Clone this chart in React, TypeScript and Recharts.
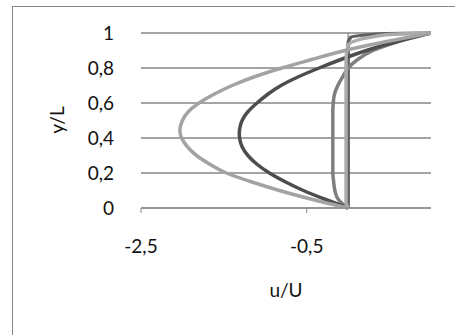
import { LineChart, Line, XAxis, YAxis, CartesianGrid, ReferenceLine, Label } from "recharts";

// y/L samples shared by the two parabolic profiles
const ySteps = [0, 0.05, 0.1, 0.15, 0.2, 0.25, 0.3, 0.35, 0.4, 0.45, 0.5, 0.55, 0.6, 0.65, 0.7, 0.75, 0.8, 0.85, 0.9, 0.95, 1];
// u/U at those heights
const uWide = [0, -0.44, -0.83, -1.17, -1.47, -1.67, -1.83, -1.94, -2.01, -2.03, -2.0, -1.93, -1.8, -1.62, -1.4, -1.13, -0.8, -0.43, -0.04, 0.45, 1];
const uMid = [0, -0.28, -0.54, -0.76, -0.95, -1.1, -1.21, -1.28, -1.31, -1.31, -1.28, -1.21, -1.1, -0.97, -0.81, -0.6, -0.35, -0.08, 0.22, 0.58, 1];

const yFlat = [0, 0.025, 0.05, 0.1, 0.15, 0.2, 0.3, 0.4, 0.5, 0.55, 0.6, 0.65, 0.7, 0.75, 0.8, 0.85, 0.9, 0.95, 1];
const uFlat = [0, -0.07, -0.12, -0.16, -0.175, -0.185, -0.185, -0.185, -0.185, -0.185, -0.18, -0.165, -0.125, -0.065, 0, 0.12, 0.3, 0.6, 1];

const yNear = [0, 0.03, 0.5, 0.85, 0.93, 0.99, 1];
const uNear = [0, -0.025, -0.025, -0.025, 0, 0.45, 1];

const yStep = [0, 0.94, 0.975, 0.995, 1];
const uStep = [0, 0, 0.03, 0.4, 1];

const xTicks = [-2.5, -0.5];
const yTicks = [0, 0.2, 0.4, 0.6, 0.8, 1];

const pts = (us: number[], ys: number[]) => us.map((u, i) => ({ u, y: ys[i] }));
const profileA = pts(uWide, ySteps);
const profileB = pts(uMid, ySteps);
const profileC = pts(uFlat, yFlat);
const profileD = pts(uNear, yNear);
const profileE = pts(uStep, yStep);

const font = "Lato, 'Open Sans', sans-serif";
const comma = (v: number) => String(v).replace(".", ",");

export default function App() {
  return (
    <div style={{ position: "fixed", left: 0, top: 0, width: 455, height: 335, background: "#fff", overflow: "hidden" }}>
      <div style={{ position: "absolute", left: 12, top: 6, width: 500, height: 400, border: "1px solid #868686" }} />
      <div style={{ position: "absolute", left: 0, top: 0 }}>
        <LineChart width={455} height={335} margin={{ top: 33, right: 24, bottom: 32, left: 0 }}>
          <CartesianGrid horizontal vertical={false} stroke="#868686" strokeWidth={1.3} />
          <XAxis
            type="number"
            dataKey="u"
            domain={[-2.5, 1]}
            ticks={xTicks}
            interval={0}
            allowDataOverflow
            tickFormatter={comma}
            height={95}
            tickSize={5}
            tickMargin={27}
            stroke="#868686"
            tick={{ fontSize: 19, fill: "#111", fontFamily: font }}
          >
            <Label value="u/U" position="insideBottom" offset={6} style={{ fontSize: 19, fill: "#111", fontFamily: font }} />
          </XAxis>
          <YAxis
            type="number"
            dataKey="y"
            domain={[0, 1]}
            ticks={yTicks}
            interval={0}
            width={141}
            axisLine={false}
            tickLine={false}
            tickSize={0}
            tickMargin={27}
            tickFormatter={comma}
            tick={{ fontSize: 19, fill: "#111", fontFamily: font }}
          >
            <Label
              content={() => (
                <text x={56} y={120} transform="rotate(-90 56 120)" textAnchor="middle" dominantBaseline="central"
                  style={{ fontSize: 19, fill: "#111", fontFamily: font }}>y/L</text>
              )}
            />
          </YAxis>
          <ReferenceLine x={0} stroke="#868686" strokeWidth={1.3} />
          <Line data={profileE} dataKey="y" type="monotoneY" stroke="#5f5f5f" strokeWidth={3.5} dot={false} isAnimationActive={false} />
          <Line data={profileC} dataKey="y" type="monotoneY" stroke="#7f7f7f" strokeWidth={3.5} dot={false} isAnimationActive={false} />
          <Line data={profileB} dataKey="y" type="natural" stroke="#4d4d4d" strokeWidth={3.5} dot={false} isAnimationActive={false} />
          <Line data={profileD} dataKey="y" type="monotoneY" stroke="#ababab" strokeWidth={3.5} dot={false} isAnimationActive={false} />
          <Line data={profileA} dataKey="y" type="natural" stroke="#a3a3a3" strokeWidth={3.5} dot={false} isAnimationActive={false} />
        </LineChart>
      </div>
    </div>
  );
}
